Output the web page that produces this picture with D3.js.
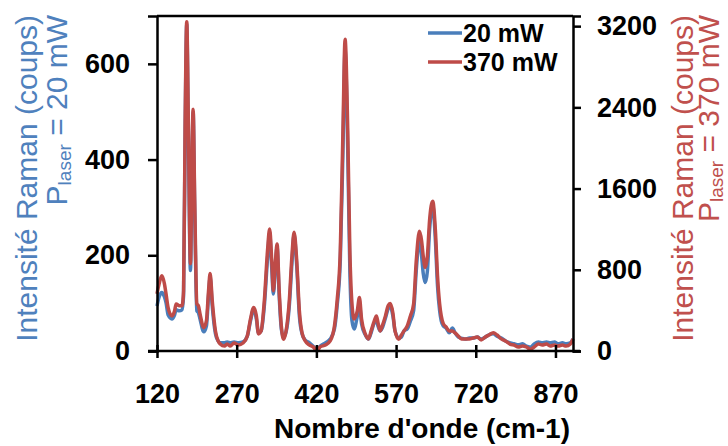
<!DOCTYPE html>
<html>
<head>
<meta charset="utf-8">
<script src="https://cdn.jsdelivr.net/npm/d3@7"></script>
<style>
  html, body { margin: 0; padding: 0; background: #fff; }
  svg { display: block; font-family: "Liberation Sans", Arial, sans-serif; }
</style>
</head>
<body>
<svg id="chart" width="728" height="446"></svg>
<script>
// ---- data ----
const wavenumber = [120,124,129,134,137,141,148,153,156,162,167,170,173,176,179,183,185,188,191,195,198,201,208,213,217,220,224,230,235,239,247,252,258,265,273,282,290,296,302,307,311,316,322,328,332,336,339,343,346,350,354,358,363,369,374,378,383,388,393,399,407,414,421,427,437,446,454,459,465,470,474,479,483,487,491,497,501,505,512,518,523,529,533,536,540,544,550,555,559,564,568,575,580,585,591,597,603,608,614,618,621,625,629,633,639,644,648,652,655,659,664,670,676,681,687,693,700,708,715,723,730,738,745,753,760,768,776,785,792,800,808,815,823,830,838,845,853,860,868,875,883,890,898,903];
const int20mW = [94,113,122,113,101,75,67,75,86,84,86,115,461,683,451,168,293,499,293,84,80,67,40,52,115,154,94,36,21,17,17,19,17,19,17,19,31,63,88,67,38,42,94,193,247,172,119,178,218,115,46,29,40,94,184,243,178,73,36,23,17,10,2,10,17,25,46,94,189,419,629,419,168,63,46,73,99,57,34,25,38,59,63,52,42,48,69,88,94,73,42,27,29,42,46,63,84,168,235,199,163,143,168,252,304,231,136,84,63,52,48,38,48,38,29,27,25,27,27,29,25,29,34,36,31,27,21,17,15,13,15,10,8,15,19,17,19,17,19,15,17,15,17,25];
const int370mW = [563,662,741,662,563,425,346,395,464,445,445,593,2272,3244,2272,860,1482,2381,1482,464,445,366,230,296,593,764,494,198,99,69,49,69,49,79,59,79,148,316,428,346,168,198,494,988,1202,889,593,889,1054,593,247,116,198,494,939,1169,889,395,178,99,59,40,0,40,59,99,247,494,988,2174,3070,2174,988,464,316,395,527,316,168,119,198,296,346,277,198,247,346,445,467,375,198,116,158,198,247,346,464,889,1179,1087,939,823,939,1284,1475,1186,741,464,346,267,237,198,198,178,148,119,119,119,128,138,109,138,158,181,158,119,99,66,59,40,49,40,17,40,69,59,69,49,59,49,59,49,69,119];
const xTicks = [120, 270, 420, 570, 720, 870];
const yLeftTicks = [0, 200, 400, 600];
const yRightTicks = [0, 800, 1600, 2400, 3200];
const seriesNames = ["20 mW", "370 mW"];

// ---- layout ----
const svg = d3.select("#chart");
const pLeft = 157, pRight = 573, pTop = 16, pBottom = 351;
const blue = "#4a7ebb", red = "#be4b48";
const blueText = "#4f81bd", redText = "#c0504d";
const font = '"Liberation Sans", Arial, sans-serif';

const x = d3.scaleLinear().domain([120, 903]).range([pLeft, pRight]);
const yL = d3.scaleLinear().domain([0, 700]).range([pBottom, pTop]);
const yR = d3.scaleLinear().domain([0, 3300]).range([pBottom, pTop]);

// series lines
const pts20 = wavenumber.map((w, i) => [w, int20mW[i]]);
const pts370 = wavenumber.map((w, i) => [w, int370mW[i]]);
const lineL = d3.line().x(d => x(d[0])).y(d => yL(d[1])).curve(d3.curveMonotoneX);
const lineR = d3.line().x(d => x(d[0])).y(d => yR(d[1])).curve(d3.curveMonotoneX);

svg.append("path").datum(pts20).attr("d", lineL)
  .attr("fill", "none").attr("stroke", blue).attr("stroke-width", 3.5).attr("stroke-linejoin", "round");
svg.append("path").datum(pts370).attr("d", lineR)
  .attr("fill", "none").attr("stroke", red).attr("stroke-width", 3.5).attr("stroke-linejoin", "round");

// axes
function styleAxis(g) {
  g.attr("font-family", font).attr("font-size", 27).attr("font-weight", "bold");
  g.selectAll(".domain").attr("stroke", "#000").attr("stroke-width", 2.5);
  g.selectAll(".tick line").attr("stroke", "#000").attr("stroke-width", 2.5);
  g.selectAll(".tick text").attr("fill", "#000");
}

const gx = svg.append("g").attr("transform", `translate(0,${pBottom})`)
  .call(d3.axisBottom(x).tickValues(xTicks).tickFormat(d3.format("d")).tickSizeOuter(0).tickSize(6))
  .call(styleAxis);
gx.selectAll(".tick line").attr("y1", -6).attr("y2", 7);
gx.selectAll(".tick text").attr("y", 33).attr("dy", "0.71em");
gx.select(".domain").attr("d", `M${pLeft - 9},0H${pRight + 7}`);

const gl = svg.append("g").attr("transform", `translate(${pLeft},0)`)
  .call(d3.axisLeft(yL).tickValues(yLeftTicks).tickFormat(d3.format("d")).tickSizeOuter(0).tickSize(9))
  .call(styleAxis);
gl.selectAll(".tick text").attr("x", -27);

const gr = svg.append("g").attr("transform", `translate(${pRight},0)`)
  .call(d3.axisRight(yR).tickValues(yRightTicks).tickFormat(d3.format("d")).tickSizeOuter(0).tickSize(8))
  .call(styleAxis);
gr.selectAll(".tick text").attr("x", 24);

// top border
svg.append("line").attr("x1", pLeft).attr("x2", pRight).attr("y1", pTop).attr("y2", pTop)
  .attr("stroke", "#000").attr("stroke-width", 2.5);

// x axis title
svg.append("text").attr("x", 422).attr("y", 438).attr("text-anchor", "middle")
  .attr("font-family", font).attr("font-size", 28).attr("font-weight", "bold").attr("fill", "#000")
  .text("Nombre d'onde (cm-1)");

// y titles
function yTitle(bx1, bx2, color, power) {
  const g = svg.append("g").attr("font-family", font).attr("fill", color);
  g.append("text").attr("transform", `translate(${bx1},15) rotate(-90)`)
    .attr("text-anchor", "end").attr("font-size", 30).text("Intensité Raman (coups)");
  const t = g.append("text").attr("transform", `translate(${bx2},15) rotate(-90)`)
    .attr("text-anchor", "end").attr("font-size", 30);
  t.append("tspan").text("P");
  t.append("tspan").attr("font-size", 19).attr("dy", 4).text("laser");
  t.append("tspan").attr("dy", -4).text(" = " + power);
}
yTitle(37, 67, blueText, "20 mW");
yTitle(693, 719, redText, "370 mW");

// legend
const legend = svg.append("g").attr("font-family", font).attr("font-weight", "bold").attr("font-size", 25);
[[seriesNames[0], blue, 33, 42], [seriesNames[1], red, 62, 71]].forEach(([name, c, ly, ty]) => {
  legend.append("line").attr("x1", 428).attr("x2", 462).attr("y1", ly).attr("y2", ly)
    .attr("stroke", c).attr("stroke-width", 3.5);
  legend.append("text").attr("x", 463).attr("y", ty).attr("fill", "#000").text(name);
});
</script>
</body>
</html>
